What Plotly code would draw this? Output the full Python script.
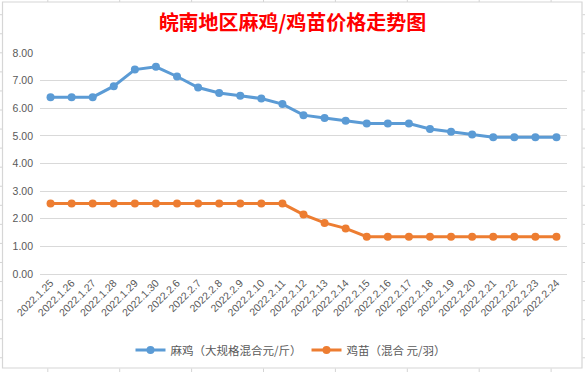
import plotly.graph_objects as go

categories = ["2022.1.25", "2022.1.26", "2022.1.27", "2022.1.28", "2022.1.29", "2022.1.30",
              "2022.2.6", "2022.2.7", "2022.2.8", "2022.2.9", "2022.2.10", "2022.2.11",
              "2022.2.12", "2022.2.13", "2022.2.14", "2022.2.15", "2022.2.16", "2022.2.17",
              "2022.2.18", "2022.2.19", "2022.2.20", "2022.2.21", "2022.2.22", "2022.2.23",
              "2022.2.24"]
maji = [6.4, 6.4, 6.4, 6.8, 7.4, 7.5, 7.15, 6.75, 6.55, 6.45, 6.35, 6.15,
        5.75, 5.65, 5.55, 5.45, 5.45, 5.45, 5.25, 5.15, 5.05, 4.95, 4.95, 4.95, 4.95]
jimiao = [2.55, 2.55, 2.55, 2.55, 2.55, 2.55, 2.55, 2.55, 2.55, 2.55, 2.55, 2.55,
          2.15, 1.85, 1.65, 1.35, 1.35, 1.35, 1.35, 1.35, 1.35, 1.35, 1.35, 1.35, 1.35]
name_maji = "麻鸡（大规格混合元/斤）"
name_jimiao = "鸡苗（混合 元/羽）"
title_text = "皖南地区麻鸡/鸡苗价格走势图"

W, H = 585, 372
L, R, T, B = 40, 18, 53, 98
PW, PH = W - L - R, H - T - B


def px(x):
    return (x - L) / PW


def py(y):
    return (H - B - y) / PH


grey = "#595959"
fig = go.Figure()
fig.add_trace(go.Scatter(x=categories, y=maji, name=name_maji, mode="lines+markers",
                         line=dict(color="#5b9bd5", width=3),
                         marker=dict(color="#5b9bd5", size=8)))
fig.add_trace(go.Scatter(x=categories, y=jimiao, name=name_jimiao, mode="lines+markers",
                         line=dict(color="#ed7d31", width=3),
                         marker=dict(color="#ed7d31", size=8)))

shapes = []
# chart border
shapes.append(dict(type="rect", xref="paper", yref="paper", x0=px(2.5), x1=px(582),
                   y0=py(368), y1=py(2), line=dict(color="#d6d6d6", width=1.2), layer="below"))
# spreadsheet grid remnants outside the chart
for k in range(19):
    yy = 14.7 + k * 19.06
    shapes.append(dict(type="line", xref="paper", yref="paper", x0=px(0), x1=px(2),
                       y0=py(yy), y1=py(yy), line=dict(color="#d4d4d4", width=1)))
    shapes.append(dict(type="line", xref="paper", yref="paper", x0=px(582.5), x1=px(585),
                       y0=py(yy), y1=py(yy), line=dict(color="#d4d4d4", width=1)))
for k in range(8):
    xx = 47.8 + k * 71.9
    shapes.append(dict(type="line", xref="paper", yref="paper", x0=px(xx), x1=px(xx),
                       y0=py(0), y1=py(2), line=dict(color="#d4d4d4", width=1)))
    shapes.append(dict(type="line", xref="paper", yref="paper", x0=px(xx), x1=px(xx),
                       y0=py(368.5), y1=py(372), line=dict(color="#d4d4d4", width=1)))

fig.update_layout(
    width=W, height=H,
    margin=dict(l=L, r=R, t=T, b=B, autoexpand=False),
    paper_bgcolor="white", plot_bgcolor="white",
    title=dict(text=title_text, x=0.5, xref="container", xanchor="center",
               y=1 - 22.5 / H, yref="container", yanchor="middle",
               font=dict(family="Noto Sans CJK SC", size=20, color="#ff0000", weight="bold")),
    xaxis=dict(type="category", range=[-0.5, 24.5], tickangle=-45, showgrid=False,
               showline=False, ticks="", automargin=False,
               tickfont=dict(family="Liberation Sans", size=10.5, color=grey)),
    yaxis=dict(range=[0, 8], dtick=1, tickformat=".2f", showgrid=True, gridcolor="#d9d9d9",
               gridwidth=1, zeroline=True, zerolinecolor="#d9d9d9", zerolinewidth=1,
               showline=False, ticks="", ticklabelstandoff=6, automargin=False,
               tickfont=dict(family="Liberation Sans", size=10.5, color=grey)),
    legend=dict(orientation="h", x=px(291), xref="paper", xanchor="center",
                y=py(350), yanchor="middle", itemwidth=30,
                font=dict(family="Noto Sans CJK SC", size=11.5, color=grey)),
    shapes=shapes,
    showlegend=True,
)
fig.write_html("out.html", config={"displayModeBar": False},
               post_script="document.body.style.margin='0';document.body.style.overflow='hidden';")
